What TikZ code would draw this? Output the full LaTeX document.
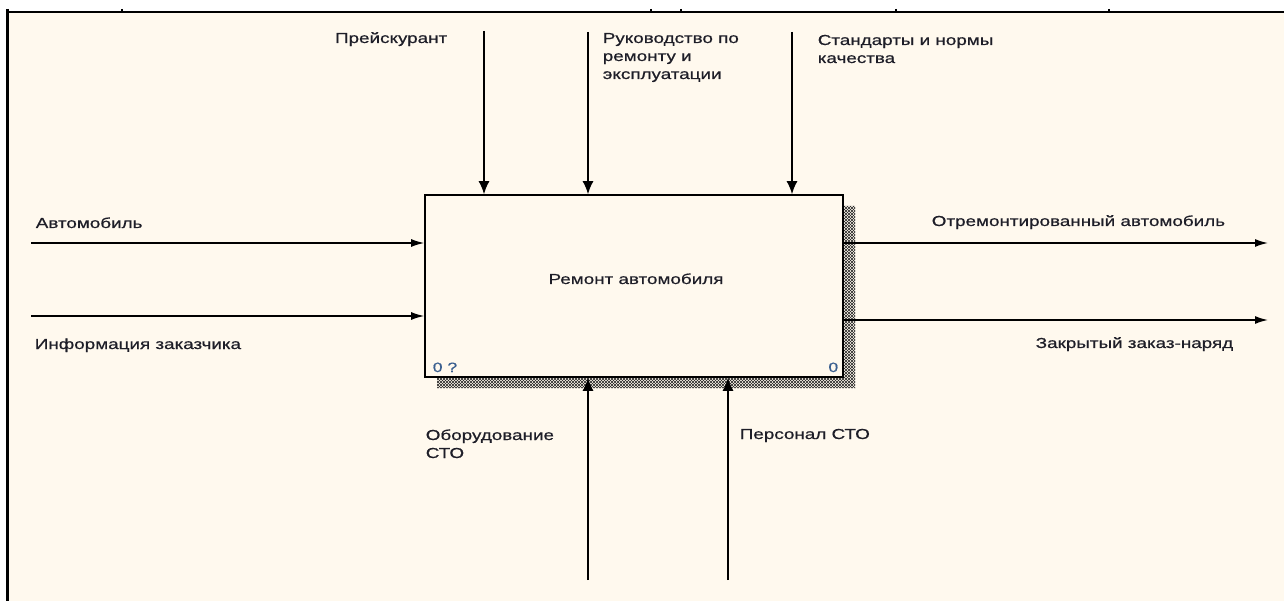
\documentclass[tikz,border=0pt]{standalone}
\usepackage{fontspec}
\setmainfont[FakeStretch=1.3,FakeBold=0.6]{Liberation Sans}
\usetikzlibrary{positioning,arrows.meta,patterns}
\definecolor{sheet}{HTML}{FFF9EE}
\definecolor{ink}{HTML}{1E1E28}
\definecolor{numink}{HTML}{3A5F8F}

\begin{document}
\begin{tikzpicture}[x=1pt,y=-1pt,line width=1.6pt,
  lab/.style={anchor=base west,inner sep=0pt,text=ink,font=\fontsize{14.5}{18}\selectfont,align=left},
  num/.style={inner sep=0pt,text=numink,font=\fontsize{13.5}{14}\selectfont},
  harr/.style={-{Latex[length=13pt,width=8pt]}},
  varr/.style={-{Latex[length=13pt,width=11pt]}}]
\useasboundingbox (0,0) rectangle (1284,601);
\fill[white] (0,0) rectangle (1284,601);
\fill[sheet] (8,12) rectangle (1284,601);
\draw[line width=1.5pt] (8,11.8)--(1284,11.8); \draw[line width=3pt] (7.5,9)--(7.5,601);
\foreach \t in {122,651,681,896,1109}{\draw[line width=1.5pt] (\t,9)--(\t,12);}
% shadow of the activity box
\foreach \p in {north east lines,north west lines}{\path[pattern=\p,pattern color=black!85] (843,206)--(855,206)--(855,388)--(437,388)--(437,377)--(843,377)--cycle;}
\node[draw,fill=sheet,minimum width=418pt,minimum height=182pt,inner sep=0pt] (act) at (634,286) {};
\node[lab,anchor=base] (title) at (636,284) {Ремонт автомобиля};
\node[num,anchor=base west] (nodeno) at (432,372) {0 ?}; \node[num,anchor=base east] (cost) at (839,372) {0};
% inputs and outputs
\coordinate (in1) at (31,243); \coordinate (in2) at (31,316);
\coordinate (out1) at (1268,243); \coordinate (out2) at (1268,320);
\draw[harr] (in1)--(act.west |- in1); \draw[harr] (in2)--(act.west |- in2);
\draw[harr] (act.east |- out1)--(out1); \draw[harr] (act.east |- out2)--(out2);
\node[lab] (auto) at (35,228) {Автомобиль};
\node[lab] (info) at (34,349) {Информация заказчика};
\node[lab] (fixed) at (931,226) {Отремонтированный автомобиль};
\node[lab,anchor=base east] (order) at (1234,348) {Закрытый заказ-наряд};
% controls and mechanisms
\coordinate (c1) at (484,31); \coordinate (c2) at (588,32); \coordinate (c3) at (792,32);
\foreach \c in {c1,c2,c3}{\draw[varr] (\c)--(\c |- act.north);}
\coordinate (m1) at (588,580); \coordinate (m2) at (728,580);
\foreach \m in {m1,m2}{\draw[varr] (\m)--(\m |- act.south);}
\node[lab,anchor=base east] (price) at (448,43) {Прейскурант};
\node[lab] (manual) at (602,79) {Руководство по\\ремонту и\\эксплуатации};
\node[lab] (norms) at (817,63) {Стандарты и нормы\\качества};
\node[lab] (equip) at (425,458) {Оборудование\\СТО};
\node[lab] (staff) at (739,439) {Персонал СТО};
\end{tikzpicture}
\end{document}
